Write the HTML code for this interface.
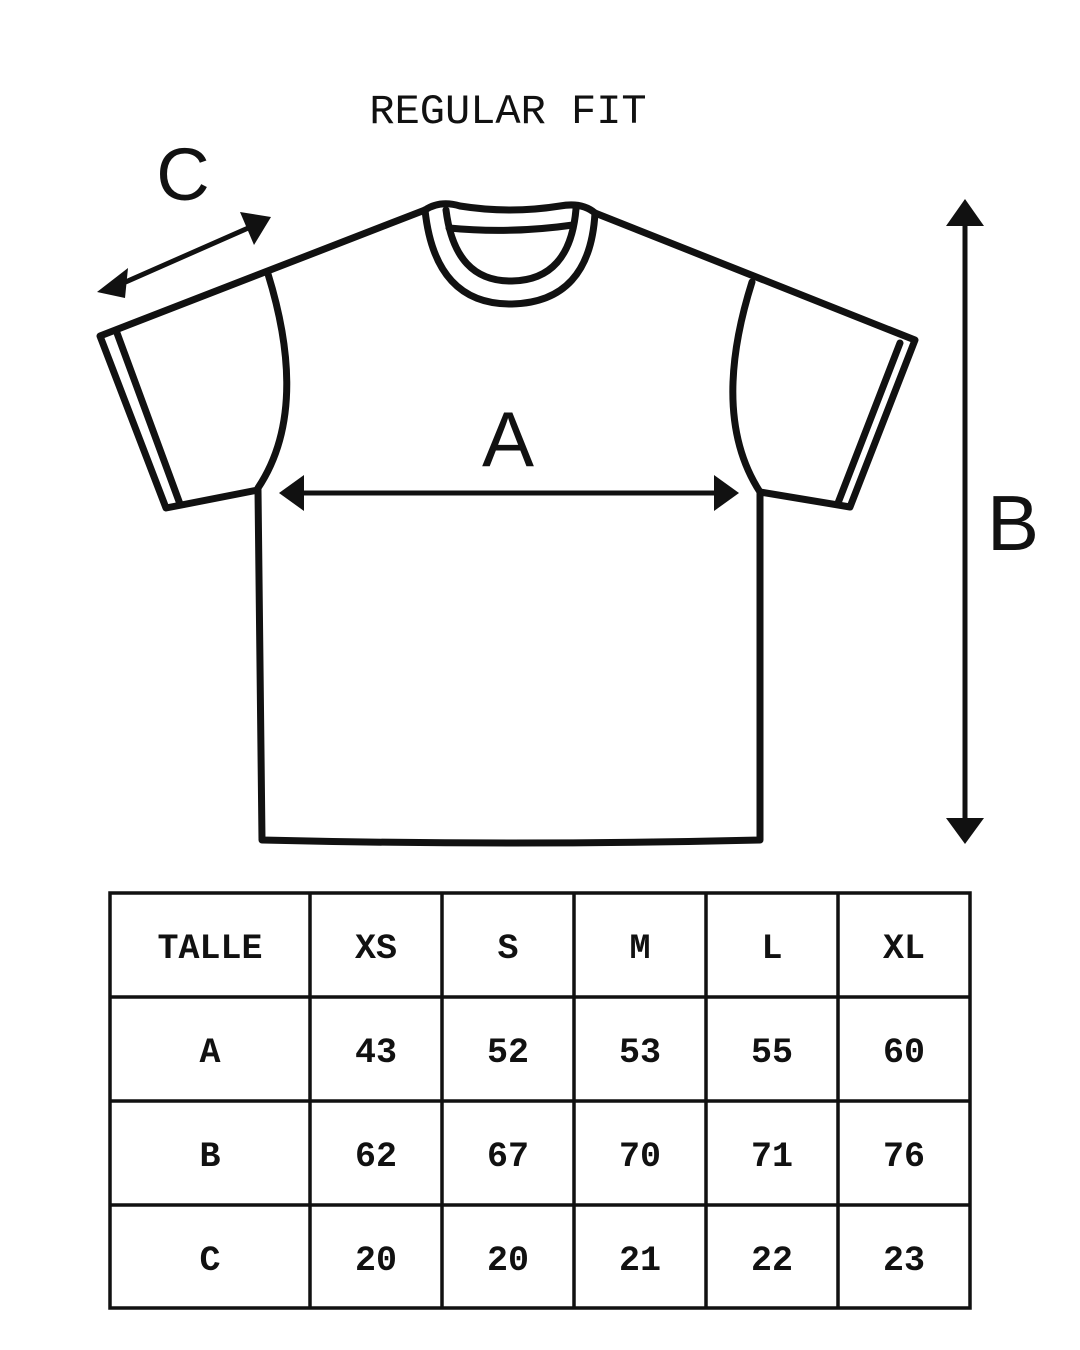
<!DOCTYPE html>
<html><head><style>
body{margin:0;background:#fff;}
svg{display:block}
</style></head><body>
<svg width="1080" height="1350" viewBox="0 0 1080 1350" xmlns="http://www.w3.org/2000/svg">
<rect width="1080" height="1350" fill="#fff"/>
<text x="508" y="123" text-anchor="middle" font-family="Liberation Mono, monospace" font-size="42" fill="#111">REGULAR FIT</text>
<g fill="none" stroke="#111" stroke-width="7" stroke-linejoin="round" stroke-linecap="round">
<path d="M425,210 L100,336 L166,508 L258,490 L262,840 Q510,846 760,840 L760,492 L850,507 L915,340 L595,213"/>
<path d="M117,333 L180,504"/>
<path d="M900,343 L838,503"/>
<path d="M268,274 Q310,410 258,488"/>
<path d="M752,282 Q710,415 760,492"/>
<path d="M425,210 Q440,200 460,206 Q510,214 560,206 Q582,202 595,213"/>
<path d="M425,210 Q435,305 512,304 Q590,302 595,213"/>
<path d="M446,210 Q455,282 512,281 Q570,280 576,209"/>
<path d="M449,228 Q510,234 573,225"/>
<path d="M112,288 L255,225" stroke-width="5"/>
<path d="M295,493 L724,493" stroke-width="5"/>
<path d="M965,215 L965,828" stroke-width="5"/>
</g>
<g fill="#111">
<polygon points="97,292 128,268 125,298"/>
<polygon points="271,217 240,212 254,245"/>
<polygon points="279,493 304,475 304,511"/>
<polygon points="739,493 714,475 714,511"/>
<polygon points="965,199 946,226 984,226"/>
<polygon points="965,844 946,818 984,818"/>
</g>
<g font-family="Liberation Sans, sans-serif" fill="#111" text-anchor="middle">
<text x="183" y="200" font-size="74">C</text>
<text x="508" y="466" font-size="78">A</text>
<text x="1013" y="550" font-size="78">B</text>
</g>
<g stroke="#111" stroke-width="3.5" fill="none">
<rect x="110" y="893" width="860" height="415"/>
<path d="M310,893V1308M442,893V1308M574,893V1308M706,893V1308M838,893V1308M110,997H970M110,1101H970M110,1205H970"/>
</g>
<g font-family="Liberation Mono, monospace" font-weight="bold" font-size="35" fill="#111" text-anchor="middle">
<text x="210" y="958">TALLE</text><text x="376" y="958">XS</text><text x="508" y="958">S</text><text x="640" y="958">M</text><text x="772" y="958">L</text><text x="904" y="958">XL</text>
<text x="210" y="1062">A</text><text x="376" y="1062">43</text><text x="508" y="1062">52</text><text x="640" y="1062">53</text><text x="772" y="1062">55</text><text x="904" y="1062">60</text>
<text x="210" y="1166">B</text><text x="376" y="1166">62</text><text x="508" y="1166">67</text><text x="640" y="1166">70</text><text x="772" y="1166">71</text><text x="904" y="1166">76</text>
<text x="210" y="1270">C</text><text x="376" y="1270">20</text><text x="508" y="1270">20</text><text x="640" y="1270">21</text><text x="772" y="1270">22</text><text x="904" y="1270">23</text>
</g>
</svg>
</body></html>
